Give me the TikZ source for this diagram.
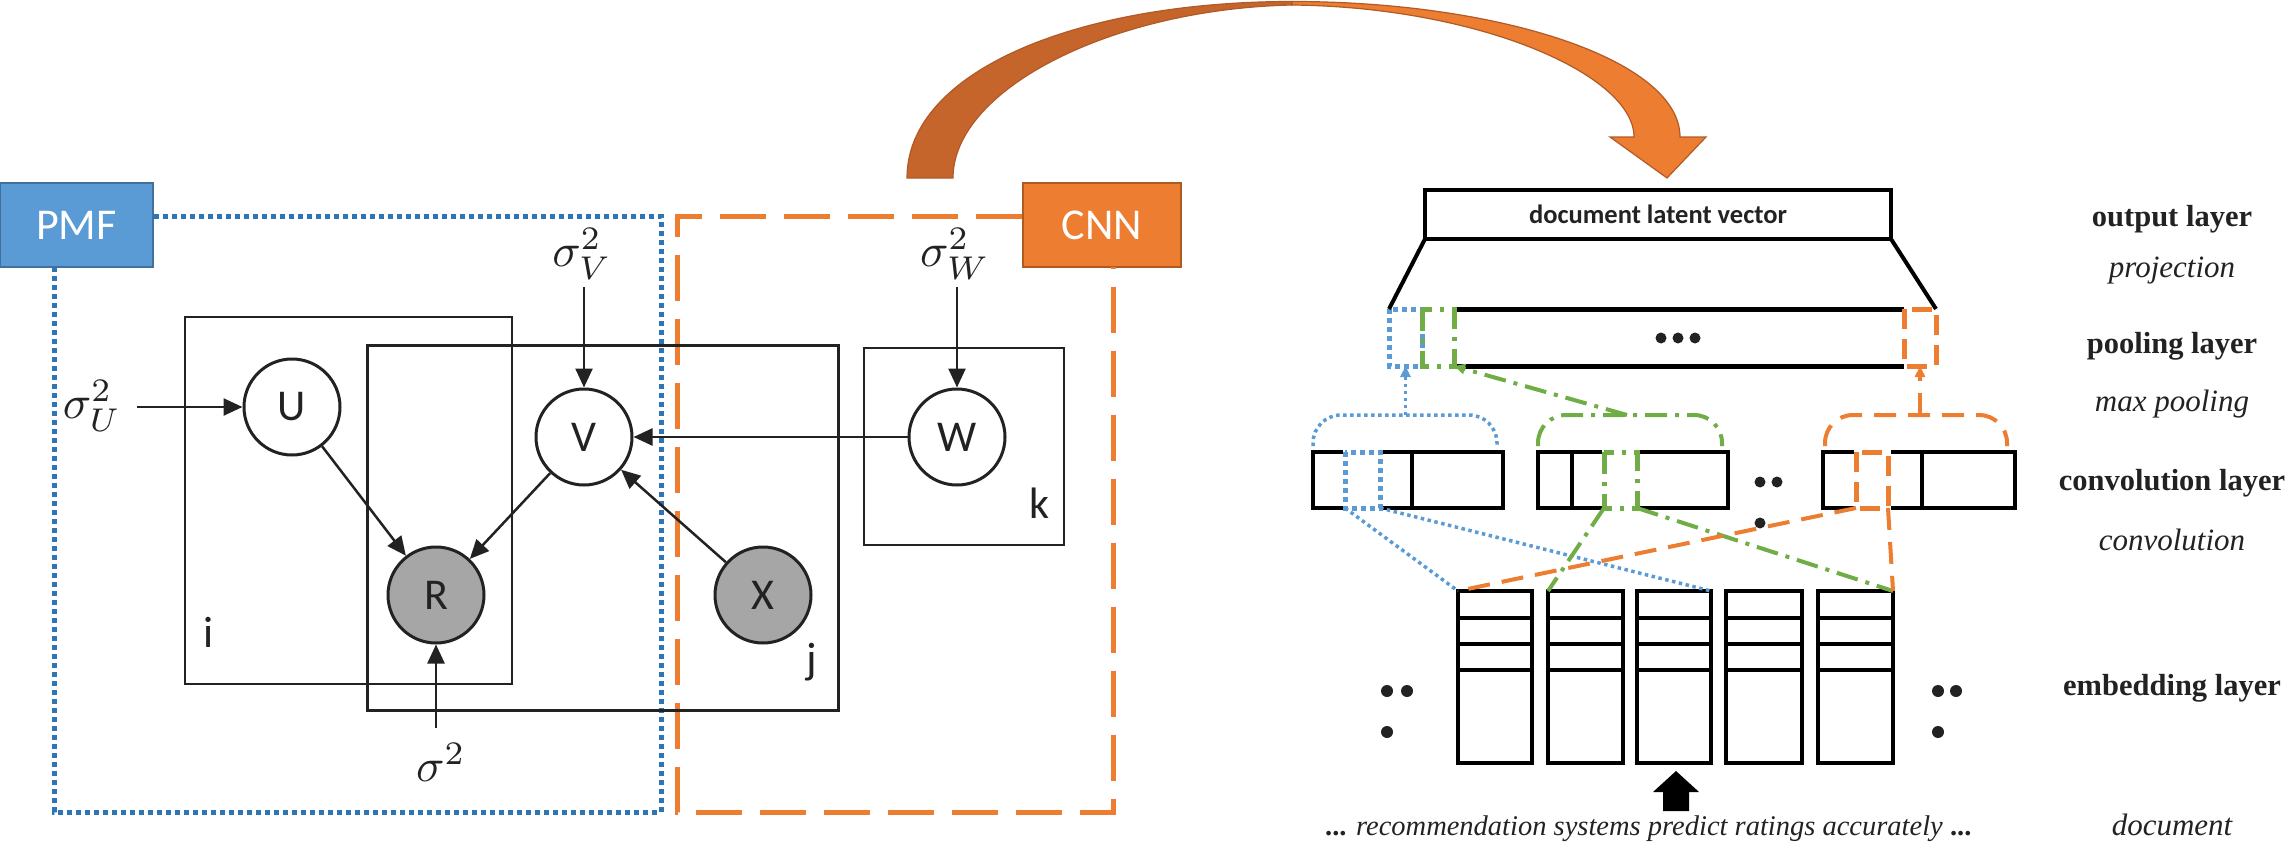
\documentclass[tikz,border=0pt]{standalone}
\usepackage{fontspec}
\setmainfont{Liberation Serif}
\newfontfamily\carl{Carlito}
\usetikzlibrary{arrows.meta}

\definecolor{pmfblue}{HTML}{5B9BD5}
\definecolor{pmfedge}{HTML}{41719C}
\definecolor{pmfdot}{HTML}{2E75B6}
\definecolor{cnnorange}{HTML}{ED7D31}
\definecolor{cnnedge}{HTML}{AE5A21}
\definecolor{arcdark}{HTML}{C5652B}
\definecolor{arcedge}{HTML}{B05A26}
\definecolor{convgreen}{HTML}{70AD47}
\definecolor{obsgray}{HTML}{A6A6A6}
\definecolor{ink}{HTML}{222222}

\begin{document}
\begin{tikzpicture}[x=1pt,y=-1pt,
  plate/.style={draw=ink, line width=2.5pt},
  latent/.style={circle, draw=ink, line width=3pt, minimum size=96pt, inner sep=0pt,
    fill=white, text=ink, font=\carl\fontsize{44}{50}\selectfont},
  observed/.style={latent, fill=obsgray},
  arr/.style={draw=ink, line width=2.5pt, -{Triangle[length=19pt,width=17pt]}},
  hyper/.style={inner sep=0pt, text=ink, scale=4.7},
  platelbl/.style={inner sep=0pt, text=ink, font=\carl\fontsize{44}{50}\selectfont},
  tagbox/.style={draw, line width=2pt, text=white, minimum height=84pt, inner sep=0pt,
    font=\carl\fontsize{44}{50}\selectfont},
  pmfline/.style={draw=pmfdot, line width=5pt, dash pattern=on 5pt off 4pt},
  cnnline/.style={draw=cnnorange, line width=5pt, dash pattern=on 46pt off 18pt},
  cell/.style={draw=black, line width=4.5pt},
  box/.style={rectangle, draw=black, line width=4.5pt, outer sep=0pt, inner sep=0pt},
  knock/.style={rectangle, draw=white, line width=5pt, outer sep=0pt, inner sep=0pt, minimum height=56pt},
  bluedot/.style={draw=pmfblue, line width=3.5pt, dash pattern=on 3.5pt off 3.5pt},
  bluedotw/.style={draw=pmfblue, line width=5pt, dash pattern=on 5pt off 4pt},
  greendd/.style={draw=convgreen, line width=4pt, dash pattern=on 22pt off 8pt on 4pt off 8pt},
  greenddw/.style={draw=convgreen, line width=5pt, dash pattern=on 22pt off 8pt on 4pt off 8pt},
  orangedash/.style={draw=cnnorange, line width=4pt, dash pattern=on 22pt off 12pt},
  orangedashw/.style={draw=cnnorange, line width=5pt, dash pattern=on 20pt off 10pt},
  smallhead/.style={-{Triangle[length=11pt,width=10pt]}},
  layername/.style={anchor=base, inner sep=0pt, text=ink, font=\bfseries\fontsize{30.5}{34}\selectfont},
  layerop/.style={anchor=base, inner sep=0pt, text=ink, font=\itshape\fontsize{31}{34}\selectfont},
  dotmark/.style={fill=ink}
]
\useasboundingbox (0,0) rectangle (2291,851);

% ---------------- PMF / CNN frames ----------------
\node[tagbox, fill=pmfblue, draw=pmfedge, minimum width=153pt] (pmf) at (76.5,225) {PMF};
\node[tagbox, fill=cnnorange, draw=cnnedge, minimum width=158pt] (cnn) at (1102,225) {CNN};
\draw[pmfline] (pmf.east |- 0,216) -- (661,216) -- (661,812) -- (54,812) -- (54,267);
\draw[cnnline] (cnn.west |- 0,216) -- (677,216) -- (677,812) -- (1113,812) -- (1113,267);

% ---------------- plates ----------------
\draw[plate] (185,317) rectangle (512,684);
\draw[plate, line width=3pt] (367,345) rectangle (838,710);
\draw[plate] (864,348) rectangle (1064,545);
\node[platelbl] (li) at (209,632) {i};
\node[platelbl] (lj) at (812,662) {j};
\node[platelbl] (lk) at (1039,503) {k};

% ---------------- random variables ----------------
\node[latent] (U) at (292,407) {U};
\node[latent] (V) at (584,437) {V};
\node[latent] (W) at (957,437) {W};
\node[observed] (R) at (436,595) {R};
\node[observed] (X) at (763,595) {X};

% hyperparameters
\node[hyper] (sU) at (92,406) {$\sigma_U^2$};
\node[hyper] (sV) at (582,254) {$\sigma_V^2$};
\node[hyper] (sW) at (955,254) {$\sigma_W^2$};
\node[hyper] (s2) at (441,762) {$\sigma^2$};
\coordinate (sUtail) at (137,407);
\coordinate (sVtail) at (584,287);
\coordinate (sWtail) at (957,287);
\coordinate (s2tail) at (436,728);

\draw[arr] (sUtail) -- (U);
\draw[arr] (sVtail) -- (V);
\draw[arr] (sWtail) -- (W);
\draw[arr] (s2tail) -- (R);
\draw[arr] (U) -- (R);
\draw[arr] (V) -- (R);
\draw[arr] (W) -- (V);
\draw[arr] (X) -- (V);

% ---------------- curved transfer arrow ----------------
\filldraw[fill=arcdark, draw=arcedge, line width=1.2pt]
  (907,178) .. controls (907,70) and (1080,1.5) .. (1292,1.5)
  -- (1292,5) .. controls (1110,9) and (953,90) .. (953,178) -- cycle;
\filldraw[fill=cnnorange, draw=arcedge, line width=1.2pt]
  (1292,1.5) .. controls (1500,1.5) and (1680,60) .. (1680,137)
  -- (1706,137) -- (1667,178) -- (1610,137) -- (1634,137)
  .. controls (1634,75) and (1480,7) .. (1292,5) -- cycle;

% ---------------- output layer ----------------
\node[rectangle, draw=black, line width=4pt, outer sep=0pt, minimum width=466pt, minimum height=49pt,
  inner sep=0pt, text=ink, font=\carl\bfseries\fontsize{26.5}{30}\selectfont] (dlv) at (1658,214.5)
  {document latent vector};

% ---------------- pooling layer ----------------
\node[knock, minimum width=33pt, minimum height=57pt] (pb) at (1405.5,337.5) {};
\node[knock, minimum width=32pt, minimum height=57pt] (pg) at (1438,337.5) {};
\node[knock, minimum width=32pt, minimum height=57pt] (po) at (1920,337.5) {};
\draw[line width=5pt] (pg.north east) -- (po.north west);
\draw[line width=5pt] (pg.south east) -- (po.south west);
\draw[bluedotw] (pb.north west) rectangle (pb.south east);
\draw[greenddw] (pg.north west) rectangle (pg.south east);
\draw[orangedashw] (po.north west) rectangle (po.south east);
\draw[line width=4pt] (dlv.south west) -- (pb.north west);
\draw[line width=4pt] (dlv.south east) -- (po.north east);
\foreach \x in {1661,1678,1695} \fill[dotmark] (\x,338) circle[radius=5.5];

% ---------------- convolution layer ----------------
\node[box, minimum width=190pt, minimum height=56pt] (c1) at (1408,480) {};
\node[box, minimum width=190pt, minimum height=56pt] (c2) at (1633,480) {};
\node[box, minimum width=192pt, minimum height=56pt] (c3) at (1919,480) {};
\draw[cell] (1412,452) -- (1412,508);
\draw[cell] (1572,452) -- (1572,508);
\draw[cell] (1922,452) -- (1922,508);
\node[knock, minimum width=35pt] (kb) at (1362.5,480) {};
\node[knock, minimum width=33pt] (kg) at (1620.5,480) {};
\node[knock, minimum width=32pt] (ko) at (1872,480) {};
\draw[bluedotw] (kb.north west) rectangle (kb.south east);
\draw[greenddw] (kg.north west) rectangle (kg.south east);
\draw[orangedashw] (ko.north west) rectangle (ko.south east);
\fill[dotmark] (1760,482) circle[radius=5.5];
\fill[dotmark] (1777,482) circle[radius=5.5];
\fill[dotmark] (1760,523) circle[radius=5.5];

% max-pooling brackets and arrows
\draw[bluedot, rounded corners=28pt] (1313,446) -- (1313,415) -- (1497,415) -- (1497,446);
\draw[greendd, rounded corners=28pt] (1538,446) -- (1538,415) -- (1722,415) -- (1722,446);
\draw[orangedash, rounded corners=28pt] (1825,446) -- (1825,415) -- (2007,415) -- (2007,446);
\coordinate (mb) at (1405.5,415);
\coordinate (mg) at (1627,415);
\coordinate (mo) at (1920,415);
\draw[bluedot, smallhead] (mb) -- (pb.south);
\draw[greendd, smallhead] (mg) -- (pg.south east);
\draw[orangedash, smallhead] (mo) -- (po.south);

% ---------------- embedding layer ----------------
\node[box, minimum width=74pt, minimum height=172pt] (e1) at (1495,677) {};
\node[box, minimum width=75pt, minimum height=172pt] (e2) at (1585.5,677) {};
\node[box, minimum width=74pt, minimum height=172pt] (e3) at (1674,677) {};
\node[box, minimum width=76pt, minimum height=172pt] (e4) at (1764,677) {};
\node[box, minimum width=75pt, minimum height=172pt] (e5) at (1855.5,677) {};
\foreach \e in {e1,e2,e3,e4,e5}
  \foreach \y in {618,644,670}
    \draw[cell] (\e.west |- 0,\y) -- (\e.east |- 0,\y);

\foreach \x/\y in {1387/691,1407/691,1387/732,1938/691,1956/691,1938/732}
  \fill[dotmark] (\x,\y) circle[radius=6];

% filter windows
\draw[bluedot] (kb.south west) -- (e1.north west);
\draw[bluedot] (kb.south east) -- (e3.north east);
\draw[greendd] (kg.south west) -- (e2.north west);
\draw[greendd] (kg.south east) -- (e5.north east);
\draw[orangedash] (ko.south west) -- (e1.north west);
\draw[orangedash] (ko.south east) -- (e5.north east);

% input word arrow
\fill[black] (1663,811) -- (1663,792) -- (1653,792) -- (1676,771) -- (1699,792)
  -- (1689,792) -- (1689,811) -- cycle;

% ---------------- document text ----------------
\node[anchor=base west, inner sep=0pt, text=ink, font=\fontsize{28.5}{32}\selectfont] (doc) at (1325,835)
  {\textbf{...} \textit{recommendation systems predict ratings accurately} \textbf{...}};

% ---------------- layer names ----------------
\node[layername] (ln1) at (2172,226) {output layer};
\node[layerop]   (lo1) at (2172,277) {projection};
\node[layername] (ln2) at (2172,353) {pooling layer};
\node[layerop]   (lo2) at (2172,411) {max pooling};
\node[layername] (ln3) at (2172,490) {convolution layer};
\node[layerop]   (lo3) at (2172,550) {convolution};
\node[layername] (ln4) at (2172,695) {embedding layer};
\node[layerop]   (lo4) at (2172,835) {document};
\end{tikzpicture}
\end{document}
